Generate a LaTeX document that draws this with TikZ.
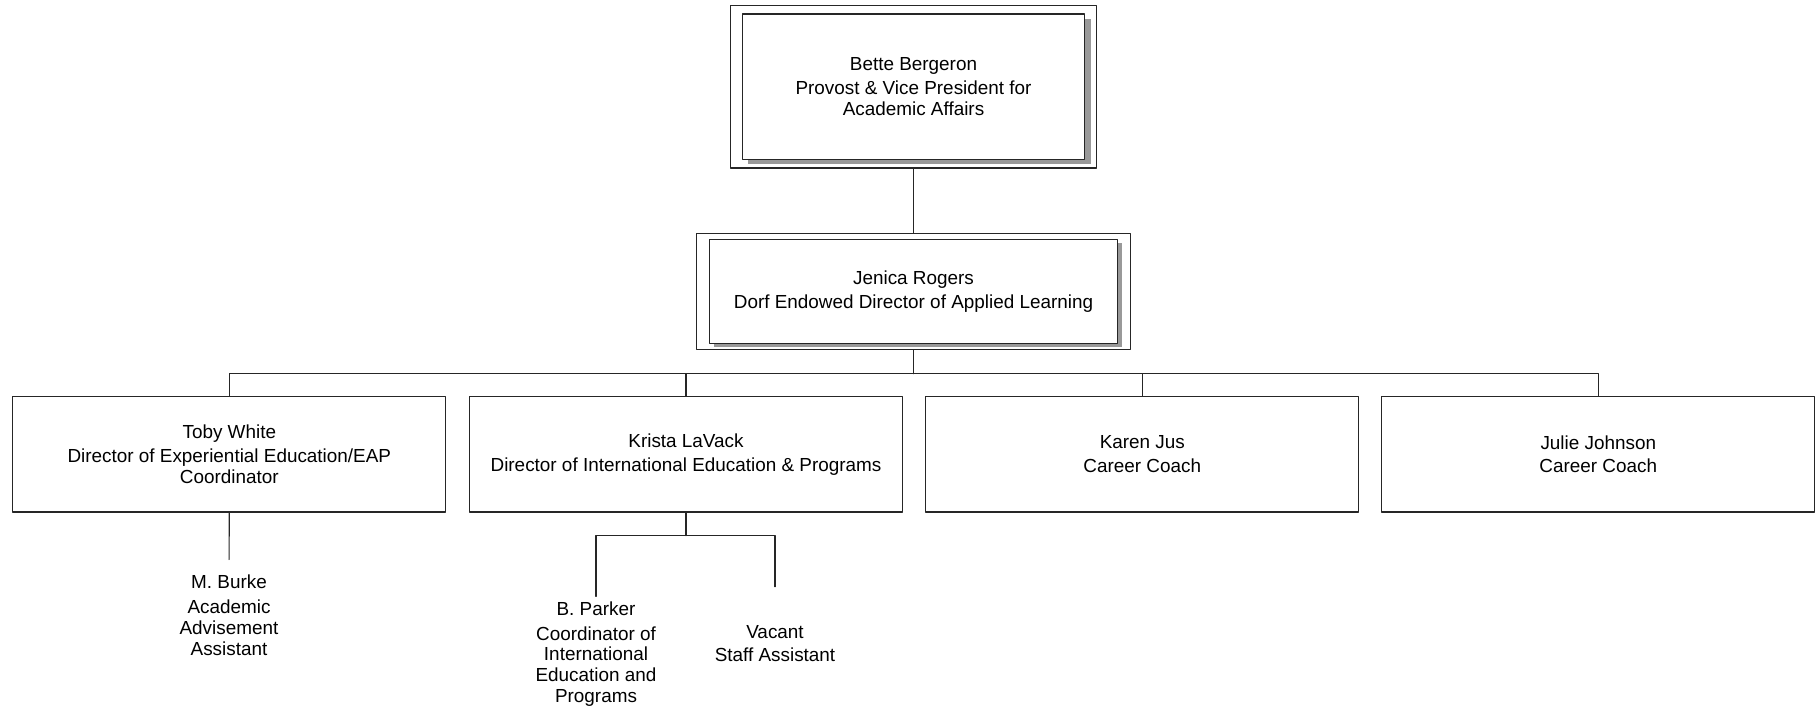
\documentclass[tikz,border=0pt]{standalone}
\usepackage{fontspec}
\setmainfont{Liberation Sans}
\usepackage{tikz}
\usetikzlibrary{positioning,fit,shadows}

\begin{document}
\begin{tikzpicture}[x=0.5pt, y=-0.5pt, line cap=round, line join=round,
	font=\fontsize{9.45pt}{10.35pt}\selectfont]
	% ---- page frame (same size as the picture) ----
	\useasboundingbox (0,0) rectangle (1820,710);
	
	\tikzset{
		head/.style={rectangle, draw=black!85, fill=white, line width=0.6pt,
			align=center, inner sep=0pt},
		frame/.style={rectangle, draw=black!85, line width=0.6pt, inner sep=0pt},
		post/.style={rectangle, draw=black!85, fill=white, line width=0.6pt,
			align=center, inner sep=0pt, minimum width=216.5pt, minimum height=57.7pt},
		staff/.style={align=center, inner xsep=0pt},
		link/.style={draw=black!85, line width=0.6pt}
	}
	
	% ---- top two levels (double frame + shadow) ----
	\node[head, minimum width=171.2pt, minimum height=72.7pt,
	drop shadow={shadow xshift=3pt, shadow yshift=-2.5pt, fill=black!40, opacity=1}]
	(bette) at (913.5,86.7) {Bette Bergeron\\[1.5pt] Provost \& Vice President for\\ Academic Affairs};
	\node[frame, fit=(bette), inner xsep=5.5pt, inner ysep=4pt] (betteBox) {};
	
	\node[head, minimum width=204pt, minimum height=52pt,
	drop shadow={shadow xshift=2.2pt, shadow yshift=-1.8pt, fill=black!40, opacity=1}]
	(jenica) at (913.5,291.3) {Jenica Rogers\\[1.5pt] Dorf Endowed Director of Applied Learning};
	\node[frame, fit=(jenica), inner xsep=6.3pt, inner ysep=2.75pt] (jenicaBox) {};
	
	% ---- directors and coaches ----
	\node[post] (toby)   at (229.3,454.3)  {Toby White\\[1.5pt] Director of Experiential Education/EAP\\ Coordinator};
	\node[post] (krista) at (686,454.3)    {Krista LaVack\\[1.5pt] Director of International Education \& Programs};
	\node[post] (karen)  at (1142.3,454.3) {Karen Jus\\[1.5pt] Career Coach};
	\node[post] (julie)  at (1598.3,454.3) {Julie Johnson\\[1.5pt] Career Coach};
	
	% ---- staff (text only) ----
	\node[staff, inner ysep=7.3pt] (burke)  at (229,615)  {M. Burke\\[2.5pt] Academic\\ Advisement\\ Assistant};
	\node[staff, inner ysep=2.5pt]   (parker) at (596,654)  {B. Parker\\[2pt] Coordinator of\\ International\\ Education and\\ Programs};
	\node[staff, inner ysep=19pt] (vacant) at (775,643.5) {Vacant\\[1.5pt] Staff Assistant};
	
	% ---- connectors ----
	\draw[link] (betteBox) -- (jenicaBox);
	\draw[link] (jenicaBox.south) -- ++(0,-11.85pt) coordinate (bar);
	\foreach \p in {toby,krista,karen,julie}{
		\draw[link] (bar) -| (\p.north);
	}
	\draw[link] (toby) -- (burke);
	\draw[link] (krista.south) -- ++(0,-11.5pt) coordinate (kbar);
	\draw[link] (kbar) -| (parker.north);
	\draw[link] (kbar) -| (vacant.north);
\end{tikzpicture}
\end{document}
